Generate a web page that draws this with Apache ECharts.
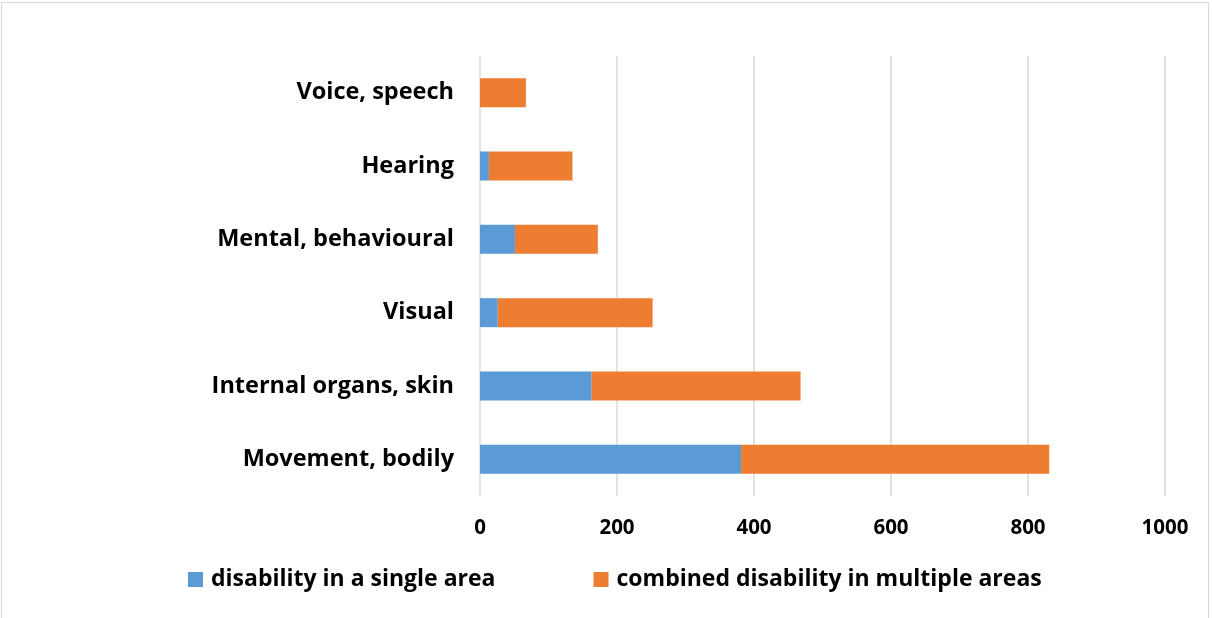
<!DOCTYPE html>
<html>
<head>
    <meta http-equiv="Content-Type" content="text/html; charset=utf-8" />
    <style type="text/css">
        body, html {width: 100%; height: 100%; overflow: hidden; margin: 0; background: #fff;}
        #chart {position: absolute; left: 1px; top: 2px; width: 1208px; height: 620px; border: 1px solid #d9d9d9; box-sizing: border-box;}
    </style>
    <title>Disability areas</title>
</head>
<body>
<div id="chart"></div>
<script src="https://cdn.jsdelivr.net/npm/echarts@6/dist/echarts.min.js"></script>
<script type="text/javascript">
    // categories bottom -> top (category axis draws first item at the bottom)
    var categories = ['Movement, bodily', 'Internal organs, skin', 'Visual', 'Mental, behavioural', 'Hearing', 'Voice, speech'];
    var singleArea = [381, 163, 26, 51, 13, 0];
    var multipleAreas = [450, 305, 226, 121, 122, 67];
    var xTicks = [0, 200, 400, 600, 800, 1000];

    var font = 'Open Sans';
    var myChart = echarts.init(document.getElementById('chart'));
    myChart.setOption({
        animation: false,
        grid: {left: 478, right: 43, top: 53, bottom: 125},
        legend: {
            bottom: 30,
            left: 186,
            padding: 0,
            itemWidth: 15,
            itemHeight: 15,
            itemGap: 98,
            icon: 'rect',
            textStyle: {fontFamily: font, fontWeight: 'bold', fontSize: 23, color: '#000', padding: [0, 0, 0, 3]},
            data: ['disability in a single area', 'combined disability in multiple areas']
        },
        xAxis: {
            type: 'value',
            min: xTicks[0],
            max: xTicks[xTicks.length - 1],
            interval: 200,
            axisLine: {show: false},
            axisTick: {show: false},
            splitLine: {lineStyle: {color: '#d9d9d9', width: 1.5}},
            axisLabel: {margin: 22, fontFamily: font, fontWeight: 'bold', fontSize: 20.5, color: '#000',
                formatter: function (v) { return String(v); }}
        },
        yAxis: {
            type: 'category',
            data: categories,
            axisLine: {show: false},
            axisTick: {show: false},
            axisLabel: {margin: 26, fontFamily: font, fontWeight: 'bold', fontSize: 23.5, color: '#000'}
        },
        series: [{
            name: 'disability in a single area',
            type: 'bar',
            stack: 'total',
            barWidth: 29,
            itemStyle: {color: '#5b9bd5'},
            data: singleArea
        }, {
            name: 'combined disability in multiple areas',
            type: 'bar',
            stack: 'total',
            barWidth: 29,
            itemStyle: {color: '#ed7d31'},
            data: multipleAreas
        }]
    });
</script>
</body>
</html>
